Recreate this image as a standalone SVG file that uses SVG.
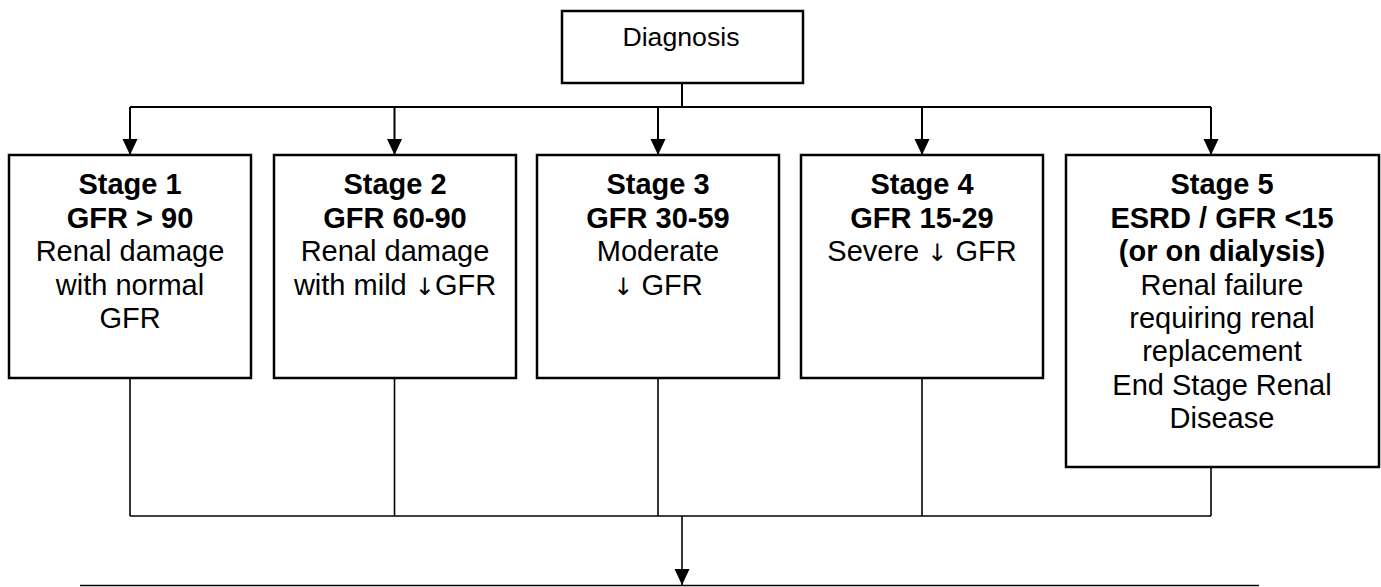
<svg xmlns="http://www.w3.org/2000/svg" width="1381" height="587" viewBox="0 0 1381 587">
  <style>
    .box { fill: #ffffff; stroke: #000000; stroke-width: 2.5; }
    .line { fill: none; stroke: #000000; stroke-width: 2; }
    .thin { fill: none; stroke: #000000; stroke-width: 1.6; }
    text { font-family: "Liberation Sans", Arial, sans-serif; fill: #000000; text-anchor: middle; }
    .t { font-size: 29px; }
    .b { font-size: 29px; font-weight: bold; }
    .d { font-size: 26.7px; }
    .arr { font-family: "DejaVu Sans", sans-serif; font-size: 24px; fill: #000000; }
  </style>
  <defs>
    <marker id="arrow" markerUnits="userSpaceOnUse" markerWidth="16" markerHeight="18" refX="16" refY="7.5" orient="auto">
      <path d="M0,0 L16,7.5 L0,15 Z" fill="#000000"/>
    </marker>
  </defs>

  <!-- connectors -->
  <g id="connectors">
    <line class="line" x1="682" y1="83" x2="682" y2="107"/>
    <line class="line" x1="130" y1="107" x2="1211" y2="107"/>
    <line class="line" x1="130" y1="107" x2="130" y2="155" marker-end="url(#arrow)"/>
    <line class="line" x1="394.5" y1="107" x2="394.5" y2="155" marker-end="url(#arrow)"/>
    <line class="line" x1="658" y1="107" x2="658" y2="155" marker-end="url(#arrow)"/>
    <line class="line" x1="922" y1="107" x2="922" y2="155" marker-end="url(#arrow)"/>
    <line class="line" x1="1211" y1="107" x2="1211" y2="155" marker-end="url(#arrow)"/>

    <line class="thin" x1="130" y1="378" x2="130" y2="516"/>
    <line class="thin" x1="394.5" y1="378" x2="394.5" y2="516"/>
    <line class="thin" x1="658" y1="378" x2="658" y2="516"/>
    <line class="thin" x1="922" y1="378" x2="922" y2="516"/>
    <line class="thin" x1="1211" y1="467" x2="1211" y2="516"/>
    <line class="thin" x1="130" y1="516" x2="1211" y2="516"/>
    <line class="thin" x1="682" y1="516" x2="682" y2="585" marker-end="url(#arrow)"/>
    <line class="thin" x1="80" y1="585.5" x2="1259" y2="585.5"/>
  </g>

  <g id="diagnosis">
    <rect class="box" x="562" y="11" width="241" height="72"/>
    <text class="d" x="681" y="46">Diagnosis</text>
  </g>

  <g id="stage1">
    <rect class="box" x="9" y="155" width="242" height="223"/>
    <text class="b" x="130" y="194">Stage 1</text>
    <text class="b" x="130" y="228">GFR &gt; 90</text>
    <text class="t" x="130" y="261">Renal damage</text>
    <text class="t" x="130" y="295">with normal</text>
    <text class="t" x="130" y="328">GFR</text>
  </g>

  <g id="stage2">
    <rect class="box" x="274" y="155" width="242" height="223"/>
    <text class="b" x="395" y="194">Stage 2</text>
    <text class="b" x="395" y="228">GFR 60-90</text>
    <text class="t" x="395" y="261">Renal damage</text>
    <text class="t" x="395" y="295">with mild <tspan class="arr">↓</tspan>GFR</text>
  </g>

  <g id="stage3">
    <rect class="box" x="537" y="155" width="242" height="223"/>
    <text class="b" x="658" y="194">Stage 3</text>
    <text class="b" x="658" y="228">GFR 30-59</text>
    <text class="t" x="658" y="261">Moderate</text>
    <text class="t" x="658" y="295"><tspan class="arr">↓</tspan> GFR</text>
  </g>

  <g id="stage4">
    <rect class="box" x="801" y="155" width="242" height="223"/>
    <text class="b" x="922" y="194">Stage 4</text>
    <text class="b" x="922" y="228">GFR 15-29</text>
    <text class="t" x="922" y="261">Severe <tspan class="arr">↓</tspan> GFR</text>
  </g>

  <g id="stage5">
    <rect class="box" x="1066" y="155" width="313" height="312"/>
    <text class="b" x="1222" y="194">Stage 5</text>
    <text class="b" x="1222" y="228">ESRD / GFR &lt;15</text>
    <text class="b" x="1222" y="261">(or on dialysis)</text>
    <text class="t" x="1222" y="295">Renal failure</text>
    <text class="t" x="1222" y="328">requiring renal</text>
    <text class="t" x="1222" y="361">replacement</text>
    <text class="t" x="1222" y="395">End Stage Renal</text>
    <text class="t" x="1222" y="428">Disease</text>
  </g>
</svg>
